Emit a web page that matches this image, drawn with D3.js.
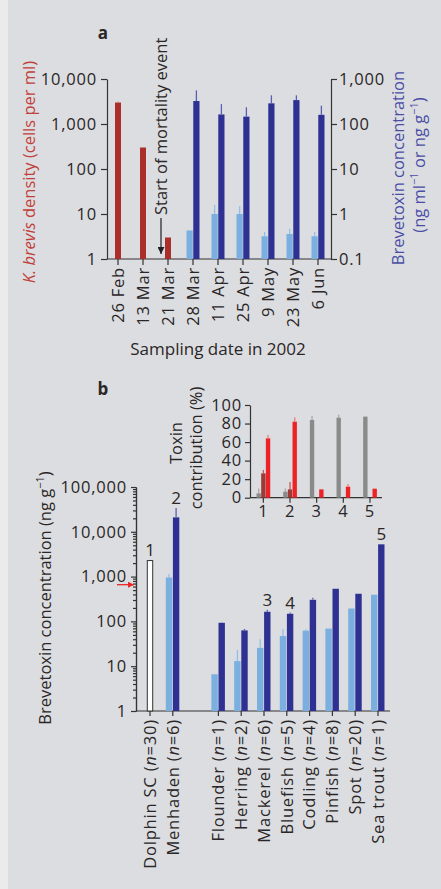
<!DOCTYPE html>
<html lang="en">
<head>
<meta charset="UTF-8">
<title>Brevetoxin chart</title>
<script src="https://d3js.org/d3.v7.min.js"></script>
<style>
  body { margin: 0; padding: 0; background: #ebebec; }
  svg { display: block; }
  text { font-family: "Open Sans", sans-serif; fill: #2a2627; }
</style>
</head>
<body>
<script>
// ---- panel a data ----
let dates = ["26 Feb", "13 Mar", "21 Mar", "28 Mar", "11 Apr", "25 Apr", "9 May", "23 May", "6 Jun"]
let kbrevis = [3000, 300, 3, null, null, null, null, null, null]
let kbrevisErr = [3150, 310, 3.1, null, null, null, null, null, null]
let waterBtx = [null, null, null, 0.43, 1.0, 1.0, 0.32, 0.36, 0.32]
let waterBtxErr = [null, null, null, 0.44, 1.6, 1.5, 0.40, 0.47, 0.40]
let fishBtx = [null, null, null, 324, 163, 146, 288, 340, 160]
let fishBtxErr = [null, null, null, 560, 277, 236, 434, 434, 255]
let mortalityStart = "21 Mar"

// ---- panel b data ----
let species = ["Dolphin SC", "Menhaden", "", "Flounder", "Herring", "Mackerel", "Bluefish", "Codling", "Pinfish", "Spot", "Sea trout"]
let sampleN = [30, 6, null, 1, 2, 6, 5, 4, 8, 20, 1]
let dolphinBtx = [2280, null, null, null, null, null, null, null, null, null, null]
let dolphinBtxErr = [2350, null, null, null, null, null, null, null, null, null, null]
let viscera = [null, 955, null, 6.6, 13, 25.7, 47, 62, 69, 194, 394]
let visceraErr = [null, 1150, null, 6.8, 23, 40, 68, 67, 69, 194, 394]
let stomach = [null, 21000, null, 93, 63, 164, 148, 303, 535, 414, 5250]
let stomachErr = [null, 34000, null, 95, 68, 181, 158, 337, 535, 414, 5250]
let peakLabels = ["1", "2", null, null, null, "3", "4", null, null, null, "5"]
let arrowLevel = 660

// ---- inset data ----
let insetGroups = ["1", "2", "3", "4", "5"]
let insetGray = [4.7, 6.5, 83.8, 86.3, 87.4]
let insetGrayErr = [10, 10, 88, 89.5, 88]
let insetDark = [26.3, 9, 0, 0, 0]
let insetDarkErr = [30, 17, 0, 0, 0]
let insetRed = [64, 82, 9, 11.9, 9.7]
let insetRedErr = [67.6, 86.7, 9.5, 14.7, 10]

let width = 441
let height = 889
let fs = 16.5

let svg = d3.select("body")
  .append("svg")
  .attr("width", width)
  .attr("height", height)

svg.append("rect")
  .attr("x", 8).attr("y", 0)
  .attr("width", width - 8).attr("height", height)
  .attr("fill", "#dcdde0")

let defs = svg.append("defs")
defs.append("marker")
  .attr("id", "headBlack").attr("viewBox", "0 0 10 10")
  .attr("refX", 10).attr("refY", 5)
  .attr("markerWidth", 7).attr("markerHeight", 7)
  .attr("markerUnits", "userSpaceOnUse")
  .attr("orient", "auto")
  .append("path").attr("d", "M0,0 L10,5 L0,10 z").attr("fill", "#231f20")
defs.append("marker")
  .attr("id", "headRed").attr("viewBox", "0 0 10 10")
  .attr("refX", 10).attr("refY", 5)
  .attr("markerWidth", 7).attr("markerHeight", 6)
  .attr("markerUnits", "userSpaceOnUse")
  .attr("orient", "auto")
  .append("path").attr("d", "M0,0 L10,5 L0,10 z").attr("fill", "#e8262a")

function styleAxis(g) {
  g.selectAll("path, line").attr("stroke", "#333").attr("stroke-width", 1.2)
  g.selectAll("text").style("font-size", fs + "px").style("letter-spacing", "0.8px").attr("fill", "#2a2627")
}

// =================== panel a ===================
let xA = d3.scaleBand().domain(dates).range([105.5, 330.5])
let yL = d3.scaleLog().domain([1, 10000]).range([259, 79])
let yR = d3.scaleLog().domain([0.1, 1000]).range([259, 79])

svg.append("text").attr("x", 103).attr("y", 39)
  .attr("text-anchor", "middle").style("font-weight", "bold").style("font-size", "17px").text("a")

svg.append("g").attr("transform", "translate(107,0)")
  .call(d3.axisLeft(yL).tickValues([1, 10, 100, 1000, 10000]).tickFormat(d3.format(","))
    .tickSize(6).tickSizeOuter(0).tickPadding(4))
  .call(styleAxis)

svg.append("g").attr("transform", "translate(331,0)")
  .call(d3.axisRight(yR).tickValues([0.1, 1, 10, 100, 1000])
    .tickFormat(d => d < 1 ? "0.1" : d3.format(",")(d))
    .tickSize(6).tickSizeOuter(0).tickPadding(2))
  .call(styleAxis)

let axA = svg.append("g").attr("transform", "translate(0,259)")
  .call(d3.axisBottom(xA).tickSize(6).tickSizeOuter(0))
  .call(styleAxis)
axA.select(".domain").attr("d", "M107,0H331")
axA.selectAll("text")
  .attr("transform", "rotate(-90)")
  .attr("x", -8).attr("y", 0).attr("dy", "0.35em")
  .style("text-anchor", "end")

let bwA = 6
let subA = d3.scaleBand().domain(["water", "fish"]).range([-6.5, 6.5]).paddingInner(0.08)
let cA = d => xA(d) + xA.bandwidth() / 2

function bars(g, cats, vals, errs, xs, y, w, fill, errColor, base) {
  cats.forEach((c, i) => {
    if (vals[i] == null || vals[i] <= 0) return
    let x = xs(c, i)
    g.append("rect")
      .attr("x", x).attr("width", w)
      .attr("y", y(vals[i])).attr("height", base - y(vals[i]))
      .attr("fill", fill.fill).attr("stroke", fill.stroke || "none")
      .attr("stroke-width", fill.sw || 0)
    if (errs[i] != null && errs[i] > vals[i]) {
      g.append("line")
        .attr("x1", x + w / 2).attr("x2", x + w / 2)
        .attr("y1", y(vals[i])).attr("y2", y(errs[i]))
        .attr("stroke", errColor).attr("stroke-width", 1.3)
    }
  })
}

let gA = svg.append("g")
bars(gA, dates, kbrevis, kbrevisErr, c => cA(c) - bwA / 2, yL, bwA, { fill: "#ab2e2b" }, "#d07a76", 259)
bars(gA, dates, waterBtx, waterBtxErr, c => cA(c) + subA("water"), yR, subA.bandwidth(), { fill: "#7aafdf" }, "#8fbfea", 259)
bars(gA, dates, fishBtx, fishBtxErr, c => cA(c) + subA("fish"), yR, subA.bandwidth(), { fill: "#2e3192" }, "#5a5fb6", 259)

// mortality annotation
let mx = cA(mortalityStart) - 7
svg.append("text")
  .attr("transform", `translate(${mx},215) rotate(-90)`)
  .attr("dy", "0.35em")
  .style("font-size", fs + "px")
  .text("Start of mortality event")
svg.append("line")
  .attr("x1", mx).attr("x2", mx).attr("y1", 218).attr("y2", 254)
  .attr("stroke", "#231f20").attr("stroke-width", 1.2)
  .attr("marker-end", "url(#headBlack)")

// axis titles
let tL = svg.append("text")
  .attr("transform", "translate(29,172) rotate(-90)")
  .attr("dy", "0.35em").attr("text-anchor", "middle")
  .style("font-size", fs + "px").style("fill", "#c0403a")
tL.append("tspan").style("font-style", "italic").style("fill", "#c0403a").text("K. brevis")
tL.append("tspan").style("fill", "#c0403a").text(" density (cells per ml)")

svg.append("text")
  .attr("transform", "translate(398,168) rotate(-90)")
  .attr("dy", "0.35em").attr("text-anchor", "middle")
  .style("font-size", fs + "px").style("fill", "#4a4da6")
  .text("Brevetoxin concentration")
let tR = svg.append("text")
  .attr("transform", "translate(419,165) rotate(-90)")
  .attr("dy", "0.35em").attr("text-anchor", "middle")
  .style("font-size", fs + "px").style("fill", "#4a4da6")
tR.append("tspan").style("fill", "#4a4da6").text("(ng ml")
tR.append("tspan").style("fill", "#4a4da6").attr("baseline-shift", "super").style("font-size", "11px").text("−1")
tR.append("tspan").style("fill", "#4a4da6").text(" or ng g")
tR.append("tspan").style("fill", "#4a4da6").attr("baseline-shift", "super").style("font-size", "11px").text("−1")
tR.append("tspan").style("fill", "#4a4da6").text(")")

svg.append("text").attr("x", 218).attr("y", 355)
  .attr("text-anchor", "middle").style("font-size", "17px")
  .text("Sampling date in 2002")

// =================== panel b ===================
let keysB = species.map((s, i) => s === "" ? "gap" : s)
let xB = d3.scaleBand().domain(keysB).range([138.6, 389.4])
let yB = d3.scaleLog().domain([1, 100000]).range([711, 487])
let cB = k => xB(k) + xB.bandwidth() / 2
let subB = d3.scaleBand().domain(["viscera", "stomach"]).range([-7, 6.5]).paddingInner(0.1)

svg.append("text").attr("x", 103).attr("y", 395)
  .attr("text-anchor", "middle").style("font-weight", "bold").style("font-size", "17px").text("b")

let majors = [1, 10, 100, 1000, 10000, 100000]
let minors = yB.ticks().filter(d => !majors.includes(d))

svg.append("g").attr("transform", "translate(136,0)")
  .call(d3.axisLeft(yB).tickValues(minors).tickFormat("").tickSize(3).tickSizeOuter(0))
  .call(styleAxis)
svg.append("g").attr("transform", "translate(136,0)")
  .call(d3.axisLeft(yB).tickValues(majors).tickFormat(d3.format(","))
    .tickSize(5).tickSizeOuter(0).tickPadding(4))
  .call(styleAxis)

let axB = svg.append("g").attr("transform", "translate(0,711)")
  .call(d3.axisBottom(xB).tickValues(keysB.filter(k => k !== "gap")).tickSize(5).tickSizeOuter(0))
  .call(styleAxis)
axB.select(".domain").attr("d", "M136,0H390")
axB.selectAll("text").each(function (k) {
  let i = keysB.indexOf(k)
  let t = d3.select(this).text(null)
    .attr("transform", "rotate(-90)")
    .attr("x", -8).attr("y", 0).attr("dy", "0.35em")
    .style("text-anchor", "end")
  t.append("tspan").text(species[i] + " (")
  t.append("tspan").style("font-style", "italic").text("n")
  t.append("tspan").text("=" + sampleN[i] + ")")
})

let gB = svg.append("g")
bars(gB, keysB, dolphinBtx, dolphinBtxErr, k => cB(k) - 2.7, yB, 5.4,
  { fill: "#ffffff", stroke: "#333", sw: 1 }, "#333", 711)
bars(gB, keysB, viscera, visceraErr, k => cB(k) + subB("viscera"), yB, subB.bandwidth(), { fill: "#7aafdf" }, "#8fbfea", 711)
bars(gB, keysB, stomach, stomachErr, k => cB(k) + subB("stomach"), yB, subB.bandwidth(), { fill: "#2e3192" }, "#5a5fb6", 711)

keysB.forEach((k, i) => {
  if (!peakLabels[i]) return
  let isDolphin = dolphinBtx[i] != null
  let x = isDolphin ? cB(k) : cB(k) + subB("stomach") + subB.bandwidth() / 2
  let top = isDolphin ? dolphinBtxErr[i] : stomachErr[i]
  svg.append("text").attr("x", x).attr("y", yB(top) - 4)
    .attr("text-anchor", "middle").style("font-size", "17px")
    .text(peakLabels[i])
})

svg.append("line")
  .attr("x1", 117).attr("x2", 134)
  .attr("y1", yB(arrowLevel)).attr("y2", yB(arrowLevel))
  .attr("stroke", "#e8262a").attr("stroke-width", 1.3)
  .attr("marker-end", "url(#headRed)")

let tB = svg.append("text")
  .attr("transform", "translate(45,598) rotate(-90)")
  .attr("dy", "0.35em").attr("text-anchor", "middle")
  .style("font-size", fs + "px")
tB.append("tspan").text("Brevetoxin concentration (ng g")
tB.append("tspan").attr("baseline-shift", "super").style("font-size", "11px").text("−1")
tB.append("tspan").text(")")

// =================== inset ===================
let xI = d3.scaleBand().domain(insetGroups).range([250, 383.3])
let yI = d3.scaleLinear().domain([0, 100]).range([497.7, 405])
let subI = d3.scaleBand().domain(["gray", "dark", "red"]).range([-6.8, 7.2])
let cI = g => xI(g) + xI.bandwidth() / 2

svg.append("g").attr("transform", "translate(250,0)")
  .call(d3.axisLeft(yI).tickValues([0, 20, 40, 60, 80, 100]).tickSize(5).tickSizeOuter(0).tickPadding(3))
  .call(styleAxis)
let axI = svg.append("g").attr("transform", "translate(0,497.7)")
  .call(d3.axisBottom(xI).tickSize(5).tickSizeOuter(0).tickPadding(3))
  .call(styleAxis)
axI.select(".domain").attr("d", "M250,0H382")

let gI = svg.append("g")
let wI = subI.bandwidth() - 0.3
bars(gI, insetGroups, insetGray, insetGrayErr, g => cI(g) + subI("gray"), yI, wI, { fill: "#8a8a8a" }, "#a8a8a8", 497.7)
bars(gI, insetGroups, insetDark, insetDarkErr, g => cI(g) + subI("dark"), yI, wI, { fill: "#9d3a35" }, "#c85a55", 497.7)
bars(gI, insetGroups, insetRed, insetRedErr, g => cI(g) + subI("red"), yI, wI, { fill: "#ec2227" }, "#f27c7c", 497.7)

svg.append("text")
  .attr("transform", "translate(176,443) rotate(-90)")
  .attr("dy", "0.35em").attr("text-anchor", "middle")
  .style("font-size", fs + "px").text("Toxin")
svg.append("text")
  .attr("transform", "translate(196,448) rotate(-90)")
  .attr("dy", "0.35em").attr("text-anchor", "middle")
  .style("font-size", fs + "px").text("contribution (%)")
</script>
</body>
</html>
